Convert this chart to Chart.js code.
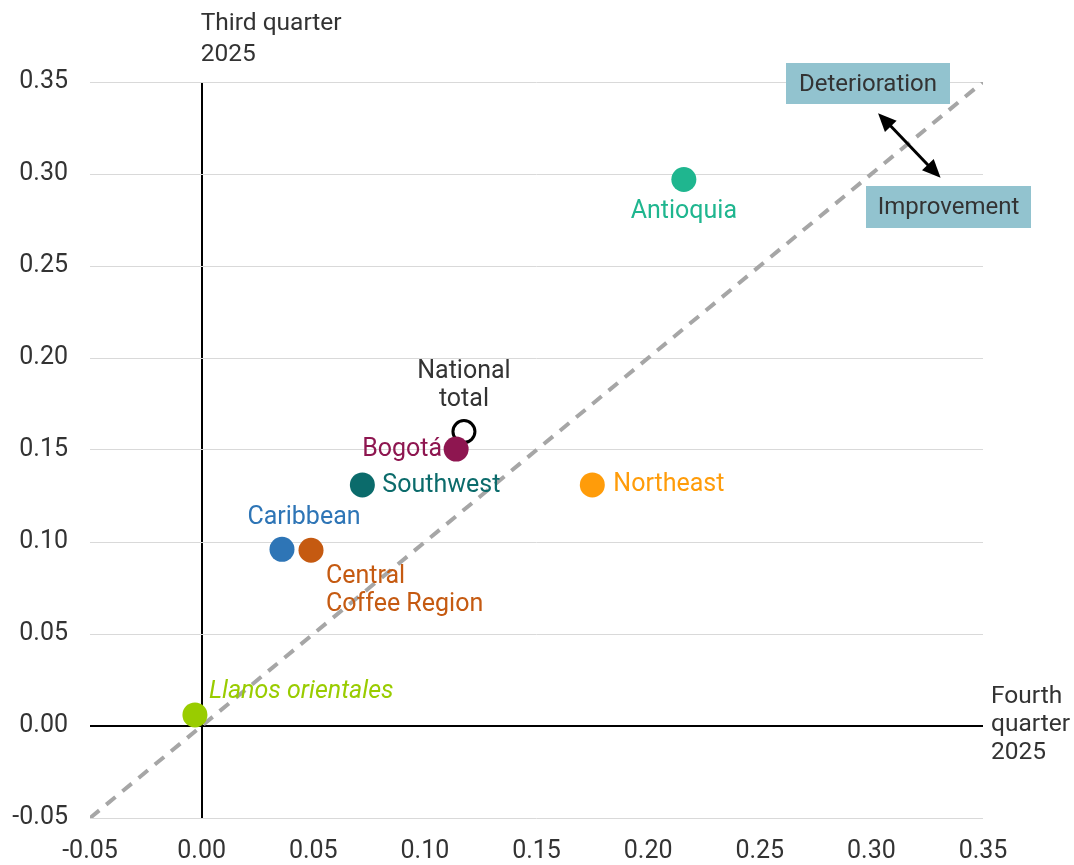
<!DOCTYPE html>
<html>
<head>
<meta charset="utf-8">
<script src="https://cdn.jsdelivr.net/npm/chart.js@4"></script>
<style>
  html, body { margin: 0; padding: 0; background: #fff; }
  #wrap { width: 1074px; height: 865px; position: relative; }
</style>
</head>
<body>
<div id="wrap"><canvas id="chart"></canvas></div>
<script>
// regions, fourth quarter 2025 (x) vs third quarter 2025 (y)
const regions = ['Antioquia', 'National total', 'Bogotá', 'Southwest', 'Northeast', 'Caribbean', 'Central Coffee Region', 'Llanos orientales'];
const q4Values = [0.216, 0.1175, 0.114, 0.072, 0.175, 0.036, 0.049, -0.003];
const q3Values = [0.297, 0.160, 0.1505, 0.131, 0.131, 0.096, 0.0955, 0.006];
const axisTicks = [-0.05, 0, 0.05, 0.10, 0.15, 0.20, 0.25, 0.30, 0.35];
const diagonal = [-0.05, 0.35];

// styling per region (colours and where the label sits)
const colors = ['#1fb68f', '#000000', '#8e1650', '#0b6b6b', '#ff9c0a', '#2e75b6', '#c55a11', '#99cc00'];
const labelStyle = [
    { lines: ['Antioquia'], dx: 0, dy: 32, align: 'center' },
    { lines: ['National', 'total'], dx: 0, dy: -60, align: 'center', color: '#333' },
    { lines: ['Bogotá'], dx: -14, dy: 1, align: 'right' },
    { lines: ['Southwest'], dx: 20, dy: 1, align: 'left' },
    { lines: ['Northeast'], dx: 21, dy: 0, align: 'left' },
    { lines: ['Caribbean'], dx: 22, dy: -32, align: 'center' },
    { lines: ['Central', 'Coffee Region'], dx: 15, dy: 26, align: 'left' },
    { lines: ['Llanos orientales'], dx: 14, dy: -23, align: 'left', italic: true }
];

const FONT = 'Roboto';
const textColor = '#333333';

const annotations = {
    id: 'annotations',
    afterDatasetsDraw(chart) {
        const ctx = chart.ctx;
        const xs = chart.scales.x, ys = chart.scales.y;
        ctx.save();
        ctx.textBaseline = 'middle';

        // point labels
        regions.forEach((name, i) => {
            const st = labelStyle[i];
            const px = xs.getPixelForValue(q4Values[i]) + st.dx;
            const py = ys.getPixelForValue(q3Values[i]) + st.dy;
            ctx.font = (st.italic ? 'italic ' : '') + '25px ' + FONT;
            ctx.fillStyle = st.color || colors[i];
            ctx.textAlign = st.align;
            st.lines.forEach((l, k) => ctx.fillText(l, px, py + k * 28));
        });

        // axis titles
        ctx.fillStyle = textColor;
        ctx.textAlign = 'left';
        ctx.font = '24.5px ' + FONT;
        const x0 = xs.getPixelForValue(0);
        ctx.fillText('Third quarter', x0 - 1, 24);
        ctx.fillText('2025', x0 - 1, 55);
        const y0 = ys.getPixelForValue(0);
        ['Fourth', 'quarter', '2025'].forEach((l, k) => ctx.fillText(l, 991, y0 - 29 + k * 28));

        // boxes
        function box(text, x, y, w, h) {
            ctx.fillStyle = '#92c3cf';
            ctx.fillRect(x, y, w, h);
            ctx.fillStyle = textColor;
            ctx.textAlign = 'center';
            ctx.fillText(text, x + w / 2, y + h / 2 + 1);
        }
        ctx.font = '24px ' + FONT;
        box('Deterioration', 786, 63, 164, 41);
        box('Improvement', 866, 186, 165, 42);

        // double arrow
        const ax1 = xs.getPixelForValue(0.303), ay1 = ys.getPixelForValue(0.333);
        const ax2 = xs.getPixelForValue(0.331), ay2 = ys.getPixelForValue(0.298);
        function head(tx, ty, fx, fy) {
            const a = Math.atan2(ty - fy, tx - fx);
            const len = 20, spread = 0.42;
            ctx.beginPath();
            ctx.moveTo(tx, ty);
            ctx.lineTo(tx - len * Math.cos(a - spread), ty - len * Math.sin(a - spread));
            ctx.lineTo(tx - len * Math.cos(a + spread), ty - len * Math.sin(a + spread));
            ctx.closePath();
            ctx.fill();
        }
        ctx.strokeStyle = '#000';
        ctx.fillStyle = '#000';
        ctx.lineWidth = 3;
        ctx.beginPath();
        ctx.moveTo(ax1 + 10, ay1 + 10);
        ctx.lineTo(ax2 - 10, ay2 - 10);
        ctx.stroke();
        head(ax1, ay1, ax2, ay2);
        head(ax2, ay2, ax1, ay1);

        ctx.restore();
    }
};

const pointData = regions.map((r, i) => ({ x: q4Values[i], y: q3Values[i] }));

new Chart(document.getElementById('chart'), {
    type: 'scatter',
    data: {
        datasets: [
            {
                type: 'line',
                data: diagonal.map(v => ({ x: v, y: v })),
                borderColor: '#a6a6a6',
                borderWidth: 4,
                borderDash: [12, 9],
                pointRadius: 0,
                order: 2
            },
            {
                data: pointData,
                backgroundColor: colors.map((c, i) => i === 1 ? 'rgba(255,255,255,0)' : c),
                borderColor: colors.map((c, i) => i === 1 ? '#000' : c),
                pointBorderWidth: colors.map((c, i) => i === 1 ? 3 : 0),
                pointRadius: colors.map((c, i) => i === 1 ? 11 : 12.5),
                pointHoverRadius: colors.map((c, i) => i === 1 ? 11 : 12.5),
                order: 1
            }
        ]
    },
    options: {
        responsive: true,
        maintainAspectRatio: false,
        animation: false,
        layout: { padding: { top: 82, right: 91, left: 0, bottom: 0 } },
        plugins: { legend: { display: false }, tooltip: { enabled: false } },
        scales: {
            x: {
                type: 'linear',
                min: -0.05, max: 0.35,
                afterBuildTicks: s => { s.ticks = axisTicks.map(v => ({ value: v })); },
                afterFit: s => { s.height = 47; },
                border: { display: false },
                grid: {
                    drawTicks: false,
                    color: c => c.tick.value === 0 ? '#000' : 'rgba(0,0,0,0)',
                    lineWidth: 2
                },
                ticks: {
                    padding: 19,
                    color: textColor,
                    font: { family: FONT, size: 25 },
                    callback: v => v.toFixed(2)
                }
            },
            y: {
                type: 'linear',
                min: -0.05, max: 0.35,
                afterBuildTicks: s => { s.ticks = axisTicks.map(v => ({ value: v })); },
                afterFit: s => { s.width = 90; },
                border: { display: false },
                grid: {
                    drawTicks: false,
                    color: c => c.tick.value === 0 ? '#000' : '#d9d9d9',
                    lineWidth: c => c.tick.value === 0 ? 2 : 1
                },
                ticks: {
                    padding: 22,
                    color: textColor,
                    font: { family: FONT, size: 25 },
                    callback: v => v.toFixed(2)
                }
            }
        }
    },
    plugins: [annotations]
});
</script>
</body>
</html>
